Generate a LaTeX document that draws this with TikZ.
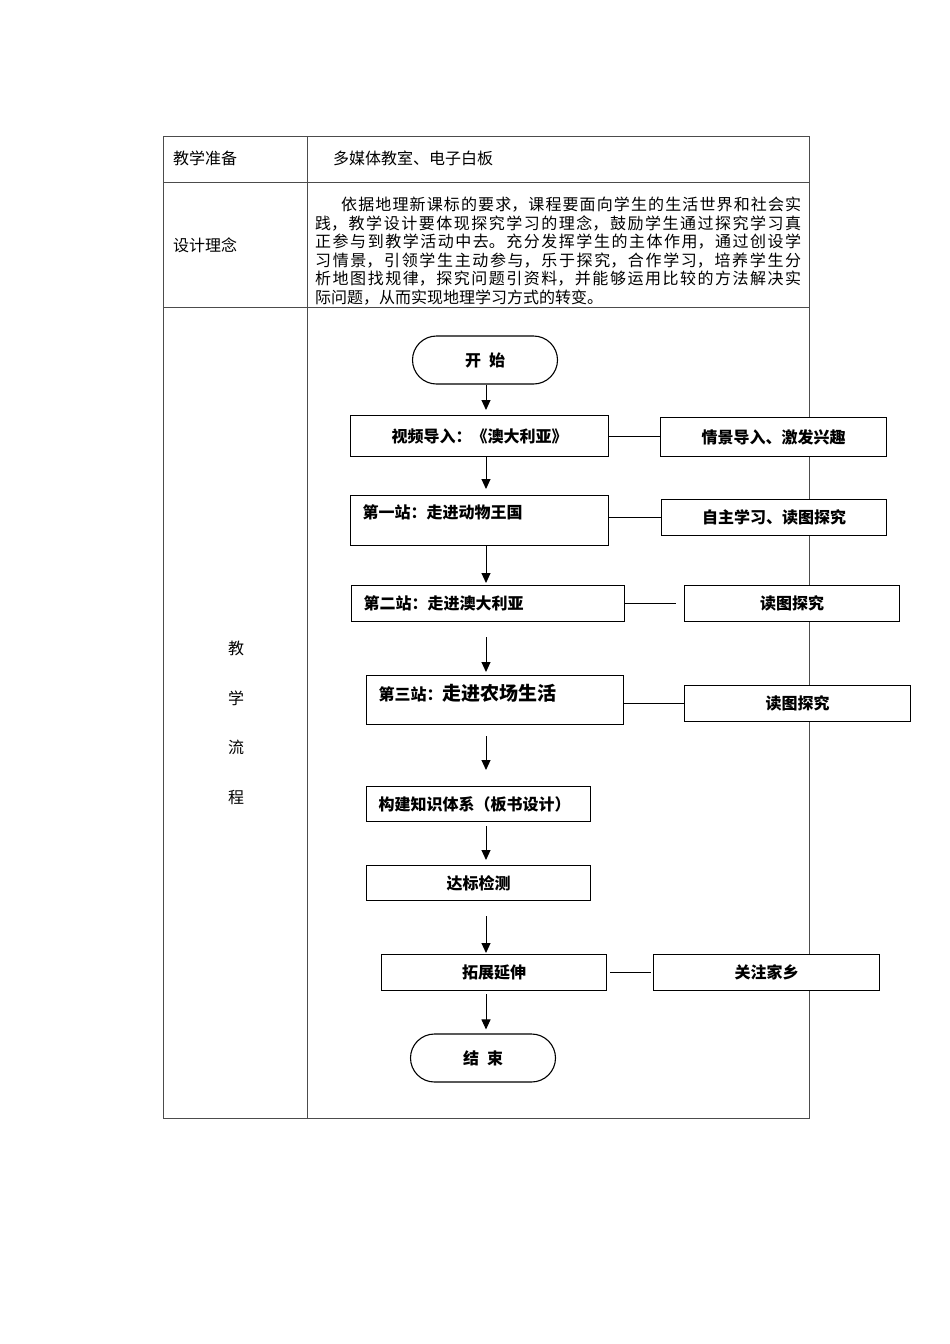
\documentclass[tikz,border=0pt]{standalone}
\usepackage{fontspec}
\setmainfont{Noto Sans CJK SC}
\usetikzlibrary{arrows.meta}
\XeTeXlinebreaklocale "zh"
\XeTeXlinebreakskip=0pt plus 2pt
\tikzset{%
    >={Triangle[width=9pt,length=10pt]},
    grid/.style = {draw=black!70, line width=0.9pt},
    cell/.style = {anchor=west, inner sep=0pt, font=\fontsize{16}{18}\selectfont},
    para/.style = {
        anchor=north west, text width=486pt, inner xsep=8pt, inner ysep=0pt,
        align=justify, font=\fontsize{16}{18.5}\selectfont
    },
    base/.style = {
        rectangle, draw=black, line width=1.1pt, fill=white, inner sep=0pt,
        font=\bfseries\fontsize{16}{18}\selectfont
    },
    terminal/.style = {base, rounded corners=24pt, minimum width=145pt, minimum height=48pt},
    station/.style = {base, anchor=north west, inner xsep=12pt, align=left},
    process/.style = {base, anchor=north west, align=center},
    note/.style = {base, anchor=north west, align=center},
    link/.style = {line width=1pt},
    flow/.style = {->, line width=1pt},
}

\begin{document}
\begin{tikzpicture}[x=1pt, y=-1pt]
        \useasboundingbox (0,0) rectangle (950,1344);

        % Table frame
        \draw[grid] (163,136) rectangle (809,1118);
        \draw[grid] (163,182) -- (809,182);
        \draw[grid] (163,307) -- (809,307);
        \draw[grid] (307,136) -- (307,1118);

        % Table texts
        \node (prepHead) [cell] at (173,158) {教学准备};
        \node (prepBody) [cell] at (333,158) {多媒体教室、电子白板};
        \node (ideaHead) [cell] at (173,245) {设计理念};
        \node (ideaBody) [para] at (307,197)
            {\hspace*{26pt}依据地理新课标的要求，课程要面向学生的生活世界和社会实\linebreak
             践，教学设计要体现探究学习的理念，鼓励学生通过探究学习真\linebreak
             正参与到教学活动中去。充分发挥学生的主体作用，通过创设学\linebreak
             习情景，引领学生主动参与，乐于探究，合作学习，培养学生分\linebreak
             析地图找规律，探究问题引资料，并能够运用比较的方法解决实\linebreak
             际问题，从而实现地理学习方式的转变。};
        \node (flowHead) [cell, anchor=center, align=center,
                          font=\fontsize{16}{49.7}\selectfont] at (236,723)
                                {教\\学\\流\\程};

        % Nodes position
        \node (start)    [terminal] at (485,360)
                                {开\hspace{8pt}始};
        \node (video)    [process, minimum width=258pt, minimum height=41pt] at (350,415)
                                {视频导入：《澳大利亚》};
        \node (intro)    [note, minimum width=226pt, minimum height=39pt] at (660,417)
                                {情景导入、激发兴趣};
        \node (st1)      [station, text width=234pt, text height=23pt, text depth=27pt] at (350,495)
                                {第一站：走进动物王国};
        \node (self)     [note, minimum width=225pt, minimum height=36pt] at (661,499)
                                {自主学习、读图探究};
        \node (st2)      [station, text width=249pt, minimum height=36pt] at (351,585)
                                {第二站：走进澳大利亚};
        \node (read1)    [note, minimum width=215pt, minimum height=36pt] at (684,585)
                                {读图探究};
        \node (st3)      [station, text width=233pt, text height=25pt, text depth=24pt] at (366,675)
                                {第三站：{\fontsize{19}{20}\selectfont 走进农场生活}};
        \node (read2)    [note, minimum width=226pt, minimum height=36pt] at (684,685)
                                {读图探究};
        \node (build)    [station, text width=200pt, minimum height=35pt] at (366,786)
                                {构建知识体系（板书设计）};
        \node (test)     [process, minimum width=224pt, minimum height=35pt] at (366,865)
                                {达标检测};
        \node (ext)      [process, minimum width=225pt, minimum height=36pt] at (381,954)
                                {拓展延伸};
        \node (home)     [note, minimum width=226pt, minimum height=36pt] at (653,954)
                                {关注家乡};
        \node (finish)   [terminal] at (483,1058)
                                {结\hspace{8pt}束};
        \coordinate (axis) at (486,0);

        % Arrow specification
        \draw[flow, shorten >=5pt] (axis |- start.south) -- (axis |- video.north);
        \draw[flow, shorten >=6pt] (axis |- video.south) -- (axis |- st1.north);
        \draw[flow, shorten >=2pt] (axis |- st1.south) -- (axis |- st2.north);
        \draw[flow, shorten <=15pt, shorten >=3pt] (axis |- st2.south) -- (axis |- st3.north);
        \draw[flow, shorten <=11pt, shorten >=16pt] (axis |- st3.south) -- (axis |- build.north);
        \draw[flow, shorten <=4pt, shorten >=5pt] (axis |- build.south) -- (axis |- test.north);
        \draw[flow, shorten <=15pt, shorten >=1pt] (axis |- test.south) -- (axis |- ext.north);
        \draw[flow, shorten <=3pt, shorten >=4pt] (axis |- ext.south) -- (axis |- finish.north);

        % Side links
        \draw[link] (video.east) -- (video.east -| intro.west);
        \draw[link] (self.west -| st1.east) -- (self.west);
        \draw[link, shorten >=8pt] (st2.east) -- (st2.east -| read1.west);
        \draw[link] (read2.west -| st3.east) -- (read2.west);
        \draw[link, shorten <=3pt, shorten >=2pt] (ext.east) -- (home.west);
    \end{tikzpicture}
\end{document}
